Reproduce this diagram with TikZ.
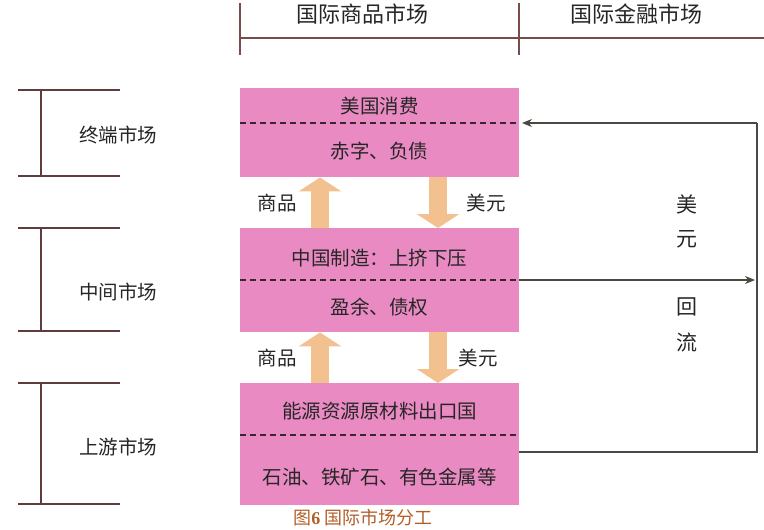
\documentclass[tikz,border=0pt]{standalone}
\usepackage{fontspec}
\setmainfont{Noto Sans CJK SC}
\newfontfamily\capserif{Liberation Serif}
\usetikzlibrary{arrows.meta}
\definecolor{boxpink}{HTML}{EA8AC3}
\definecolor{tanarrow}{HTML}{F3C18F}
\definecolor{rulebrown}{HTML}{7A4B4B}
\definecolor{dashdark}{HTML}{3B2530}
\definecolor{captioncol}{HTML}{B25E28}
\definecolor{txtcol}{HTML}{262626}
\definecolor{conncol}{HTML}{4A4A44}
\begin{document}
\begin{tikzpicture}[x=1pt,y=-1pt,
  box/.style={draw=none,fill=boxpink,minimum width=279pt,inner sep=0pt,anchor=north west},
  boxtext/.style={font=\fontsize{19.5}{19.5}\selectfont,text=txtcol,inner sep=0pt},
  headtext/.style={font=\fontsize{22}{22}\selectfont,text=txtcol,inner sep=0pt},
  sidetext/.style={font=\fontsize{19.5}{19.5}\selectfont,text=txtcol,inner sep=0pt},
  flowtext/.style={font=\fontsize{19.5}{19.5}\selectfont,text=txtcol,inner sep=0pt},
  vtext/.style={font=\fontsize{21}{21}\selectfont,text=txtcol,inner sep=0pt},
  dashline/.style={draw=dashdark,line width=1.6pt,dash pattern=on 6pt off 4pt},
  ruleline/.style={draw=rulebrown,line width=1.2pt},
  sideline/.style={draw=rulebrown!80!black,line width=1.1pt},
  conn/.style={draw=conncol,line width=1.2pt},
  conntip/.style={-{Stealth[length=10pt,width=8pt]}},
  blockarrow/.style={draw=tanarrow,line width=18pt,-{Triangle[length=14pt,width=42pt]}}
]
\useasboundingbox (0,0) rectangle (764,530);

% header
\coordinate (h1t) at (240,3);
\coordinate (h1b) at (240,55);
\coordinate (h2t) at (519,3);
\coordinate (h2b) at (519,55);
\coordinate (hl) at (240,38);
\coordinate (hr) at (764,38);
\draw[ruleline] (h1t) -- (h1b);
\draw[ruleline] (h2t) -- (h2b);
\draw[ruleline] (hl) -- (hr);
\node[headtext] (hc) at (362,14) {国际商品市场};
\node[headtext] (hf) at (636,14) {国际金融市场};

% boxes
\node[box,minimum height=89pt] (b1) at (240,88) {};
\node[box,minimum height=104pt] (b2) at (240,228) {};
\node[box,minimum height=122pt] (b3) at (240,383) {};

\draw[dashline] (240,123) -- (519,123);
\draw[dashline] (240,280) -- (519,280);
\draw[dashline] (240,435) -- (519,435);

\node[boxtext] (t1a) at (379.5,106) {美国消费};
\node[boxtext] (t1b) at (379.5,151) {赤字、负债};
\node[boxtext] (t2a) at (379.5,258) {中国制造：上挤下压};
\node[boxtext] (t2b) at (379.5,307) {盈余、债权};
\node[boxtext] (t3a) at (379.5,411) {能源资源原材料出口国};
\node[boxtext] (t3b) at (379.5,477) {石油、铁矿石、有色金属等};

% block arrows
\draw[blockarrow] ([xshift=80pt]b2.north west) -- ([xshift=80pt]b1.south west);
\draw[blockarrow] ([xshift=198pt]b1.south west) -- ([xshift=198pt]b2.north west);
\draw[blockarrow] ([xshift=80pt]b3.north west) -- ([xshift=80pt]b2.south west);
\draw[blockarrow] ([xshift=198pt]b2.south west) -- ([xshift=198pt]b3.north west);

\node[flowtext] (g1) at (277,203) {商品};
\node[flowtext] (d1) at (486,203) {美元};
\node[flowtext] (g2) at (277,358) {商品};
\node[flowtext] (d2) at (478,358) {美元};

% right connectors
\coordinate (tr) at (757,123);
\coordinate (tl) at (519,123);
\coordinate (mr) at (755,280);
\coordinate (ml) at (519,280);
\coordinate (br) at (757,452);
\coordinate (bl) at (519,452);
\draw[conn,conntip,shorten >=3pt] (tr) -- (tl);
\draw[conn] (bl) -- (br) -- (tr);
\draw[conn,conntip] (ml) -- (mr);
\node[vtext] (v1) at (687,204) {美};
\node[vtext] (v2) at (687,239) {元};
\node[vtext] (v3) at (687,307) {回};
\node[vtext] (v4) at (687,342) {流};

% left brackets
\draw[sideline] (18,90) -- (120,90);
\draw[sideline] (18,176) -- (120,176);
\draw[sideline] (41,90) -- (41,176);
\draw[sideline] (18,228) -- (120,228);
\draw[sideline] (18,331) -- (120,331);
\draw[sideline] (41,228) -- (41,331);
\draw[sideline] (18,383) -- (120,383);
\draw[sideline] (18,504) -- (120,504);
\draw[sideline] (41,383) -- (41,504);
\node[sidetext] (s1) at (118,135) {终端市场};
\node[sidetext] (s2) at (118,292) {中间市场};
\node[sidetext] (s3) at (118,447) {上游市场};

% caption
\node[font=\fontsize{18}{18}\selectfont,text=captioncol,inner sep=0pt] (cap) at (363,518) {图{\capserif\bfseries 6} 国际市场分工};
\end{tikzpicture}
\end{document}
